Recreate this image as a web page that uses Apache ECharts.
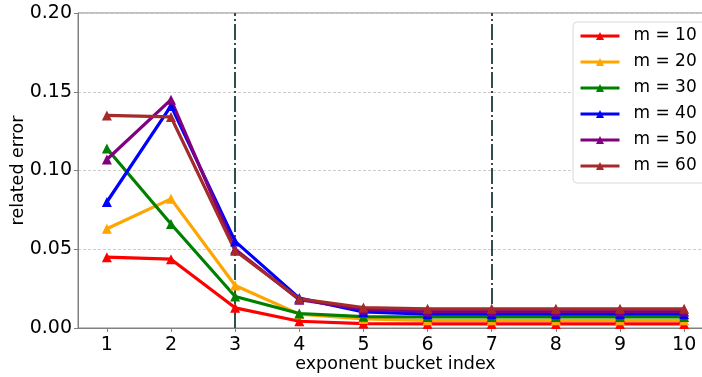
<!DOCTYPE html>
<html>
<head>
<meta charset="utf-8">
<script src="https://cdn.jsdelivr.net/npm/echarts@6/dist/echarts.min.js"></script>
<style>
  html, body { margin: 0; padding: 0; background: #fff; }
  #chart { width: 702px; height: 377px; }
</style>
</head>
<body>
<div id="chart"></div>
<script>
// Bucket indices along the x axis
const buckets = [1, 2, 3, 4, 5, 6, 7, 8, 9, 10];
const yTicks = [0, 0.05, 0.10, 0.15, 0.20];
const markerBuckets = [3, 7];

// Related error per bucket, one array per m
const m10 = [0.045, 0.0437, 0.0128, 0.0043, 0.0028, 0.0026, 0.0026, 0.0026, 0.0026, 0.0026];
const m20 = [0.063, 0.082, 0.027, 0.0088, 0.0057, 0.0049, 0.0049, 0.0049, 0.0049, 0.0049];
const m30 = [0.114, 0.066, 0.020, 0.0092, 0.0072, 0.0070, 0.0070, 0.0070, 0.0070, 0.0070];
const m40 = [0.080, 0.141, 0.055, 0.019, 0.0102, 0.0088, 0.0088, 0.0088, 0.0088, 0.0088];
const m50 = [0.107, 0.145, 0.050, 0.018, 0.0118, 0.0105, 0.0105, 0.0105, 0.0105, 0.0105];
const m60 = [0.135, 0.134, 0.049, 0.0185, 0.0130, 0.0122, 0.0122, 0.0122, 0.0122, 0.0122];

const seriesNames = ['m = 10', 'm = 20', 'm = 30', 'm = 40', 'm = 50', 'm = 60'];
const seriesValues = [m10, m20, m30, m40, m50, m60];
const colors = ['#ff0000', '#ffa500', '#008000', '#0000ff', '#800080', '#a52a2a'];

const FONT = 'DejaVu Sans';

const series = seriesNames.map((name, i) => ({
  name: name,
  type: 'line',
  data: buckets.map((b, j) => [b, seriesValues[i][j]]),
  symbol: 'triangle',
  symbolSize: 10,
  lineStyle: { width: 3.2, color: colors[i] },
  itemStyle: { color: colors[i] },
  emphasis: { disabled: true },
  z: 3,
  animation: false
}));

// Dash-dot vertical reference lines, kept beneath the curves
series.push({
  type: 'line',
  data: [],
  silent: true,
  z: 1,
  markLine: {
    silent: true,
    symbol: 'none',
    z: 1,
    label: { show: false },
    lineStyle: { color: '#2f4f4f', width: 2, type: [16, 3, 2, 3] },
    data: markerBuckets.map(b => ({ xAxis: b })),
    animation: false
  }
});

const chart = echarts.init(document.getElementById('chart'), null, { renderer: 'canvas' });
chart.setOption({
  animation: false,
  backgroundColor: '#ffffff',
  grid: {
    left: 78, right: -11, top: 13, bottom: 49,
    outerBoundsMode: 'none',
    containLabel: false,
    show: true, borderColor: '#808080', borderWidth: 1
  },
  xAxis: {
    type: 'value',
    min: 0.55, max: 10.45,
    name: 'exponent bucket index',
    nameLocation: 'middle',
    nameGap: 27,
    nameMoveOverlap: false,
    nameTextStyle: { fontFamily: FONT, fontSize: 17.5, color: '#000' },
    axisLine: { show: true, lineStyle: { color: '#808080', width: 1 } },
    axisTick: { show: true, customValues: buckets, length: 4, lineStyle: { color: '#808080' } },
    axisLabel: {
      customValues: buckets,
      fontFamily: FONT, fontSize: 19, color: '#000', margin: 8
    },
    splitLine: { show: false }
  },
  yAxis: {
    type: 'value',
    min: 0, max: 0.2, interval: 0.05,
    name: 'related error',
    nameLocation: 'middle',
    nameGap: 51,
    nameMoveOverlap: false,
    nameTextStyle: { fontFamily: FONT, fontSize: 17.5, color: '#000' },
    axisLine: { show: true, lineStyle: { color: '#808080', width: 1 } },
    axisTick: { show: true, length: 4, lineStyle: { color: '#808080' } },
    axisLabel: {
      fontFamily: FONT, fontSize: 19, color: '#000', margin: 6,
      formatter: v => v.toFixed(2)
    },
    splitLine: { show: true, lineStyle: { color: '#cccccc', type: [3, 2], width: 1 } }
  },
  legend: {
    orient: 'vertical',
    left: 573, top: 22,
    padding: [4, 20, 7, 6],
    itemWidth: 39, itemHeight: 10,
    itemGap: 6,
    backgroundColor: '#ffffff',
    borderColor: '#d8d8d8', borderWidth: 1, borderRadius: 4,
    lineStyle: { width: 3 },
    textStyle: { fontFamily: FONT, fontSize: 17, color: '#000', lineHeight: 20, padding: [0, 0, 0, 9] },
    data: seriesNames
  },
  series: series
});
</script>
</body>
</html>
